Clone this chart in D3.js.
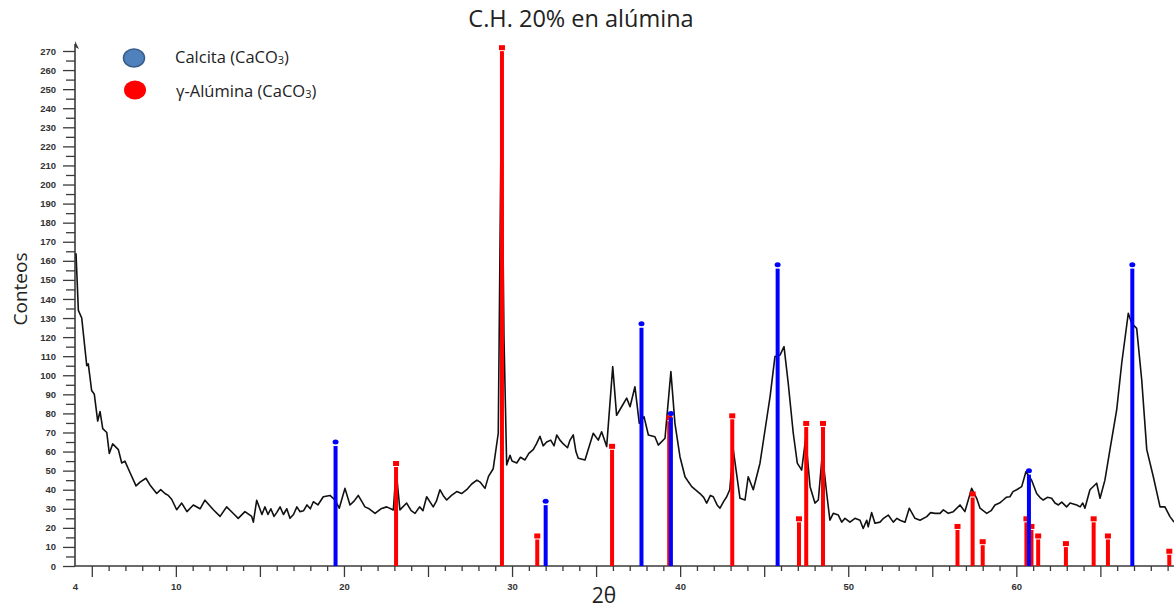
<!DOCTYPE html>
<html>
<head>
<meta charset="utf-8">
<script src="https://cdn.jsdelivr.net/npm/d3@7"></script>
<style>
  html, body { margin: 0; padding: 0; background: #fff; }
  svg { display: block; }
</style>
</head>
<body>
<svg id="chart" width="1174" height="609"></svg>
<script>
// Diffractogram: 2θ (degrees) and detector counts
const twoTheta = [
  4.06, 4.20, 4.40, 4.70, 4.79, 4.99, 5.15, 5.35, 5.49, 5.65,
  5.89, 6.04, 6.24, 6.58, 6.78, 6.97, 7.27, 7.63, 7.87, 8.22,
  8.46, 8.86, 9.10, 9.35, 9.55, 9.75, 10.05, 10.35, 10.66, 11.04,
  11.44, 11.73, 12.23, 12.63, 13.02, 13.42, 13.71, 14.11, 14.51, 14.61,
  14.81, 15.12, 15.30, 15.48, 15.65, 15.84, 16.00, 16.20, 16.40, 16.60,
  16.79, 17.00, 17.20, 17.38, 17.60, 17.80, 18.00, 18.18, 18.45, 18.77,
  19.17, 19.47, 19.72, 20.06, 20.36, 20.60, 20.85, 21.25, 21.50, 21.85,
  22.20, 22.54, 22.94, 23.10, 23.33, 23.73, 24.00, 24.23, 24.50, 24.70,
  24.92, 25.31, 25.50, 25.71, 25.90, 26.11, 26.40, 26.71, 27.00, 27.30,
  27.60, 27.91, 28.10, 28.39, 28.60, 28.88, 29.18, 29.37, 29.52, 29.68,
  29.88, 30.00, 30.28, 30.50, 30.77, 31.00, 31.26, 31.45, 31.66, 31.85,
  32.06, 32.30, 32.50, 32.66, 32.85, 33.05, 33.30, 33.45, 33.64, 33.80,
  33.94, 34.34, 34.83, 35.13, 35.33, 35.63, 35.99, 36.22, 36.52, 36.82,
  37.02, 37.31, 37.57, 37.85, 38.11, 38.50, 38.70, 39.10, 39.45, 39.69,
  39.99, 40.29, 40.50, 40.69, 40.90, 41.18, 41.40, 41.58, 41.80, 41.97,
  42.20, 42.37, 42.60, 42.77, 42.95, 43.16, 43.56, 43.86, 44.05, 44.35,
  44.75, 45.05, 45.35, 45.64, 45.94, 46.18, 46.43, 46.73, 46.97, 47.23,
  47.47, 47.73, 48.02, 48.22, 48.46, 48.72, 48.91, 49.11, 49.41, 49.61,
  49.81, 50.10, 50.40, 50.70, 50.89, 51.10, 51.19, 51.39, 51.59, 51.89,
  52.10, 52.38, 52.68, 52.90, 53.08, 53.38, 53.63, 53.97, 54.27, 54.67,
  54.90, 55.16, 55.46, 55.66, 55.95, 56.25, 56.65, 56.94, 57.34, 57.64,
  57.84, 58.24, 58.50, 58.73, 59.00, 59.22, 59.40, 59.62, 59.80, 60.02,
  60.32, 60.57, 60.91, 61.21, 61.40, 61.60, 61.85, 62.10, 62.30, 62.50,
  62.70, 62.99, 63.20, 63.59, 63.80, 63.95, 64.08, 64.38, 64.78, 64.98,
  65.27, 65.57, 65.97, 66.27, 66.66, 66.86, 67.16, 67.46, 67.76, 68.15,
  68.55, 68.84, 69.14, 69.38
];
const counts = [
  164, 134, 130, 105, 106, 92, 90, 76, 81, 72,
  70, 59, 64, 61, 54, 55, 49, 42, 44, 46,
  42.5, 38, 40, 38, 37, 35, 29.5, 33, 28.5, 32,
  30, 34.5, 29.5, 26, 31, 27.5, 25, 28.5, 26, 23,
  34.5, 27, 31, 27, 30, 26, 28, 31, 27, 30,
  25, 27, 31, 28.5, 29, 32, 30, 33.7, 32, 36.3,
  37, 34.6, 30.3, 40.7, 32, 34, 37, 31, 30, 27.6,
  30, 31, 29.4, 50.3, 29.4, 33, 29, 27.6, 31, 29,
  36.3, 31, 34, 40, 37, 34.6, 37, 39, 38, 40,
  43, 45, 44, 40.7, 47, 51, 69.6, 249, 120, 53,
  58, 55, 54, 57, 55.6, 59, 61, 64, 68, 63,
  65, 66, 63, 68.7, 66, 64, 62, 66, 68.7, 60,
  56.5, 55.6, 69.6, 66, 70.4, 62.6, 104.5, 79, 83.5, 88,
  83.5, 94, 74.8, 78.3, 68.7, 67.8, 63.4, 67, 101.9, 74.8,
  57.3, 46.8, 44, 41.6, 40, 38, 36, 33, 37, 36.3,
  32, 30.3, 34, 36.3, 40, 61, 35.5, 34.6, 46.8, 40,
  53.9, 71.3, 88.8, 109.8, 110.6, 115, 95.8, 69.6, 53.9, 50.3,
  67, 41.6, 33, 34.6, 59, 38, 24, 27.6, 26.7, 23,
  25, 23, 25, 24, 19.7, 24, 20.6, 28, 22.4, 23,
  25, 26.7, 23, 25, 24, 23, 30.3, 25, 24, 25.9,
  28, 27.6, 27.6, 29.4, 27.6, 28.5, 32, 28.5, 40.7, 35.5,
  30.3, 27.6, 29, 32, 33, 34.6, 36, 36.3, 39, 40,
  41.6, 49.4, 45, 38, 36, 34.6, 36, 35.5, 33, 32,
  33.5, 31, 33, 32, 31, 33, 30.3, 40, 43.4, 35.5,
  45, 61, 81.8, 106.3, 132.5, 127.3, 124.6, 97.5, 61, 46.8,
  31, 31, 25.9, 23
];

// Reference reflections
const calcitaPos = [19.5, 32.0, 37.7, 39.45, 45.8, 60.75, 66.9];
const calcitaInt = [65, 34, 127, 80, 158, 50, 158];
const aluminaPos = [23.1, 29.4, 31.5, 35.95, 39.35, 43.1, 47.07, 47.5, 48.5, 56.5, 57.4, 58.0,
                    60.6, 60.9, 61.3, 62.95, 64.6, 65.45, 69.1];
const aluminaInt = [54, 272, 16, 63, 78, 79, 25, 75, 75, 21, 38, 13,
                    25, 21, 16, 12, 25, 16, 8];

const yMajorTicks = d3.range(0, 271, 10);
const yMinorTicks = d3.range(5, 271, 10);
const xLabelTicks = [4, 10, 20, 30, 40, 50, 60];
const xMajorTicks = d3.range(5, 70, 5);
const xMinorTicks = d3.range(5, 70, 1).filter(v => v % 5 !== 0);

const svg = d3.select("#chart");
const x = d3.scaleLinear().domain([4, 69.38]).range([75, 1174]);
const y = d3.scaleLinear().domain([0, 270]).range([566, 51]);

const axisColor = "#3a3a3a";
const tickFont = "'Liberation Sans', Arial, sans-serif";
const textFont = "'Open Sans', 'Noto Sans', sans-serif";

// Title
svg.append("text")
  .attr("x", 581).attr("y", 27)
  .attr("text-anchor", "middle")
  .attr("font-family", textFont)
  .attr("font-size", 23.5)
  .attr("fill", "#222")
  .text("C.H. 20% en alúmina");

// Y axis
const yMinor = svg.append("g").attr("transform", "translate(75,0)")
  .call(d3.axisLeft(y).tickValues(yMinorTicks).tickSize(9).tickFormat(""));
const yMajor = svg.append("g").attr("transform", "translate(75,0)")
  .call(d3.axisLeft(y).tickValues(yMajorTicks).tickSize(12).tickPadding(7));
[yMinor, yMajor].forEach(g => {
  g.select(".domain").remove();
  g.selectAll("line").attr("stroke", axisColor).attr("stroke-width", 1.3);
});
yMajor.selectAll("text")
  .attr("font-family", tickFont).attr("font-size", 9.5).attr("font-weight", "bold")
  .attr("fill", "#333");
svg.append("line")
  .attr("x1", 75).attr("x2", 75).attr("y1", 566).attr("y2", 44)
  .attr("stroke", axisColor).attr("stroke-width", 1.6);
svg.append("path")
  .attr("d", "M75,41 L79,49 L75,47 Z")
  .attr("fill", axisColor);

// X axis
const xMinor = svg.append("g").attr("transform", "translate(0,566)")
  .call(d3.axisBottom(x).tickValues(xMinorTicks).tickSize(5).tickFormat(""));
const xMajor = svg.append("g").attr("transform", "translate(0,566)")
  .call(d3.axisBottom(x).tickValues(xMajorTicks).tickSize(11).tickFormat(""));
const xLab = svg.append("g").attr("transform", "translate(0,566)")
  .call(d3.axisBottom(x).tickValues(xLabelTicks).tickSize(0).tickPadding(17));
[xMinor, xMajor, xLab].forEach(g => {
  g.select(".domain").remove();
  g.selectAll("line").attr("stroke", axisColor).attr("stroke-width", 1.3);
});
xLab.selectAll("text")
  .attr("font-family", tickFont).attr("font-size", 9.5).attr("font-weight", "bold")
  .attr("fill", "#333");
svg.append("line")
  .attr("x1", 75).attr("x2", 1174).attr("y1", 566).attr("y2", 566)
  .attr("stroke", axisColor).attr("stroke-width", 1.6);

// Axis titles
svg.append("text")
  .attr("transform", "translate(27,289) rotate(-90)")
  .attr("text-anchor", "middle")
  .attr("font-family", textFont)
  .attr("font-size", 19)
  .attr("fill", "#222")
  .text("Conteos");
svg.append("text")
  .attr("x", 604).attr("y", 603)
  .attr("text-anchor", "middle")
  .attr("font-family", textFont)
  .attr("font-size", 21)
  .attr("fill", "#222")
  .text("2θ");

// Measured pattern
const pattern = twoTheta.map((t, i) => [t, counts[i]]);
svg.append("path")
  .datum(pattern)
  .attr("fill", "none")
  .attr("stroke", "#111")
  .attr("stroke-width", 1.6)
  .attr("stroke-linejoin", "round")
  .attr("d", d3.line().x(d => x(d[0])).y(d => y(d[1])));

// Reflection sticks with cap markers
function sticks(pos, val, color, cap) {
  const g = svg.append("g");
  const data = pos.map((p, i) => ({p, v: val[i]}));
  g.selectAll("rect.bar").data(data).join("rect")
    .attr("class", "bar")
    .attr("x", d => x(d.p) - 2)
    .attr("width", 4)
    .attr("y", d => y(d.v) + 4)
    .attr("height", d => y(0) - y(d.v) - 4)
    .attr("fill", color);
  if (cap === "square") {
    g.selectAll("rect.cap").data(data).join("rect")
      .attr("class", "cap")
      .attr("x", d => x(d.p) - 3)
      .attr("width", 6)
      .attr("y", d => y(d.v) - 2)
      .attr("height", 5)
      .attr("fill", color);
  } else {
    g.selectAll("ellipse.cap").data(data).join("ellipse")
      .attr("class", "cap")
      .attr("cx", d => x(d.p))
      .attr("cy", d => y(d.v))
      .attr("rx", 3).attr("ry", 2.5)
      .attr("fill", color);
  }
}
sticks(aluminaPos, aluminaInt, "#ff0000", "square");
sticks(calcitaPos, calcitaInt, "#0000ff", "dot");

// Legend
svg.append("ellipse")
  .attr("cx", 134).attr("cy", 58).attr("rx", 10.5).attr("ry", 9)
  .attr("fill", "#4f81bd").attr("stroke", "#385d8a").attr("stroke-width", 1.5);
svg.append("ellipse")
  .attr("cx", 135).attr("cy", 90).attr("rx", 11).attr("ry", 9.5)
  .attr("fill", "#ff0000");
const l1 = svg.append("text")
  .attr("x", 175).attr("y", 63)
  .attr("font-family", textFont).attr("font-size", 16.5).attr("fill", "#222");
l1.append("tspan").text("Calcita (CaCO");
l1.append("tspan").attr("font-size", 11).attr("dy", 1).text("3");
l1.append("tspan").attr("dy", -1).text(")");
const l2 = svg.append("text")
  .attr("x", 176).attr("y", 97)
  .attr("font-family", textFont).attr("font-size", 16.5).attr("fill", "#222");
l2.append("tspan").text("γ-Alúmina (CaCO");
l2.append("tspan").attr("font-size", 11).attr("dy", 1).text("3");
l2.append("tspan").attr("dy", -1).text(")");
</script>
</body>
</html>
